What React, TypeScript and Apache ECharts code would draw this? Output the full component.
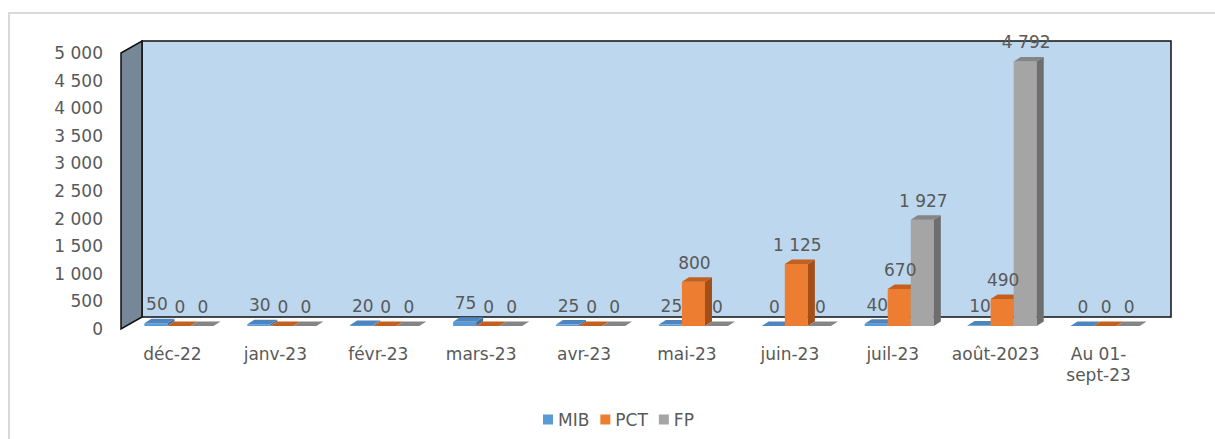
import React, { useEffect, useRef } from "react";
import * as echarts from "echarts";

const categories = [
  "déc-22",
  "janv-23",
  "févr-23",
  "mars-23",
  "avr-23",
  "mai-23",
  "juin-23",
  "juil-23",
  "août-2023",
  "Au 01-\nsept-23",
];
const seriesNames = ["MIB", "PCT", "FP"];
const mibValues = [50, 30, 20, 75, 25, 25, 0, 40, 10, 0];
const pctValues = [0, 0, 0, 0, 0, 800, 1125, 670, 490, 0];
const fpValues = [0, 0, 0, 0, 0, 0, 0, 1927, 4792, 0];
const yMin = 0;
const yMax = 5000;
const yInterval = 500;

const FRONT = ["#5B9BD5", "#ED7D31", "#A5A5A5"];
const TOPC = ["#4D86BE", "#C4601F", "#858585"];
const SIDE = ["#3E6F9E", "#A34F17", "#6E6E6E"];

const GRID_LEFT = 121;
const GRID_TOP = 53;
const GRID_W = 1029;
const GRID_H = 276;
const WALL_DX = 21;
const WALL_DY = 12;
const BAR_SHIFT_X = 6.5;
const BAR_SHIFT_Y = 3;
const BAR_DX = 7;
const BAR_DY = 4.5;
const FONT = "DejaVu Sans";
const TEXT_COLOR = "#595959";

const fmt = (v: number) => String(v).replace(/\B(?=(\d{3})+(?!\d))/g, " ");

function makeRender(s: number) {
  return (params: any, api: any) => {
    const i = api.value(0);
    const v = api.value(1);
    const base = api.coord([i, 0]);
    const top = api.coord([i, v]);
    const band = api.size([1, 0])[0];
    const bw = band * 0.224;
    const cx = base[0] + BAR_SHIFT_X + (s - 1) * bw;
    const x0 = cx - bw / 2;
    const x1 = cx + bw / 2;
    const yb = base[1] - BAR_SHIFT_Y;
    const yt = top[1] - BAR_SHIFT_Y;
    const children: any[] = [];
    if (yb - yt > 0.2) {
      children.push({
        type: "rect",
        shape: { x: x0, y: yt, width: bw, height: yb - yt },
        style: { fill: FRONT[s] },
      });
      children.push({
        type: "polygon",
        shape: {
          points: [
            [x1, yb],
            [x1 + BAR_DX, yb - BAR_DY],
            [x1 + BAR_DX, yt - BAR_DY],
            [x1, yt],
          ],
        },
        style: { fill: SIDE[s] },
      });
    }
    children.push({
      type: "polygon",
      shape: {
        points: [
          [x0, yt],
          [x0 + BAR_DX, yt - BAR_DY],
          [x1 + BAR_DX, yt - BAR_DY],
          [x1, yt],
        ],
      },
      style: { fill: TOPC[s] },
    });
    children.push({
      type: "text",
      z2: 10,
      style: {
        x: cx + 1,
        y: yt - 19,
        text: fmt(v),
        fill: TEXT_COLOR,
        font: `17px "${FONT}"`,
        align: "center",
        verticalAlign: "middle",
      },
    });
    return { type: "group", children };
  };
}

export default function App() {
  const ref = useRef<HTMLDivElement>(null);
  useEffect(() => {
    if (!ref.current) return;
    const chart = echarts.init(ref.current, null, { renderer: "svg" });
    const allValues = [mibValues, pctValues, fpValues];
    const gl = GRID_LEFT;
    const gt = GRID_TOP;
    const gb = GRID_TOP + GRID_H;
    chart.setOption({
      animation: false,
      color: FRONT,
      textStyle: { fontFamily: FONT },
      graphic: [
        {
          type: "rect",
          z: 0,
          shape: { x: 9, y: 13, width: 1240, height: 460 },
          style: { fill: "none", stroke: "#D9D9D9", lineWidth: 2 },
        },
        {
          type: "rect",
          z: 0,
          shape: {
            x: gl + WALL_DX,
            y: gt - WALL_DY,
            width: GRID_W,
            height: GRID_H,
          },
          style: { fill: "#BDD7EE", stroke: "#111111", lineWidth: 1.5 },
        },
        {
          type: "polygon",
          z: 0,
          shape: {
            points: [
              [gl, gt],
              [gl + WALL_DX, gt - WALL_DY],
              [gl + WALL_DX, gb - WALL_DY],
              [gl, gb],
            ],
          },
          style: { fill: "#768797", stroke: "#111111", lineWidth: 1.5 },
        },
      ],
      legend: {
        data: seriesNames,
        left: 538,
        top: 406,
        icon: "rect",
        itemWidth: 10,
        itemHeight: 10,
        itemGap: 11,
        textStyle: { color: TEXT_COLOR, fontSize: 17, fontFamily: FONT },
      },
      grid: { left: gl, top: gt, width: GRID_W, height: GRID_H },
      xAxis: {
        type: "category",
        data: categories,
        axisLine: { show: false },
        axisTick: { show: false },
        axisLabel: {
          color: TEXT_COLOR,
          fontSize: 17,
          fontFamily: FONT,
          margin: 14,
          lineHeight: 21,
          interval: 0,
        },
      },
      yAxis: {
        type: "value",
        min: yMin,
        max: yMax,
        interval: yInterval,
        axisLine: { show: false },
        axisTick: { show: false },
        splitLine: { show: false },
        axisLabel: {
          color: TEXT_COLOR,
          fontSize: 17,
          fontFamily: FONT,
          margin: 18,
          formatter: (v: number) => fmt(v),
        },
      },
      series: seriesNames.map((name, s) => ({
        name,
        type: "custom",
        z: 2,
        itemStyle: { color: FRONT[s] },
        encode: { x: 0, y: 1 },
        data: allValues[s].map((v, i) => [i, v]),
        renderItem: makeRender(s),
      })),
    });
    return () => chart.dispose();
  }, []);
  return (
    <div
      ref={ref}
      style={{ position: "fixed", left: 0, top: 0, width: 1215, height: 439, background: "#fff" }}
    />
  );
}
